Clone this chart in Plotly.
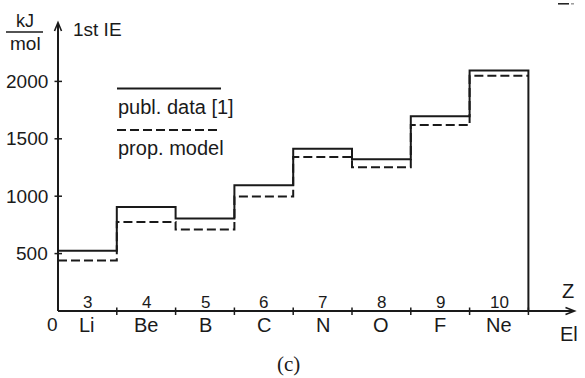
import plotly.graph_objects as go

# First ionisation energies of the period-2 elements (kJ/mol)
elements = ["Li", "Be", "B", "C", "N", "O", "F", "Ne"]
atomic_numbers = [3, 4, 5, 6, 7, 8, 9, 10]
ie_published = [524, 906, 806, 1096, 1414, 1322, 1696, 2096]
ie_model = [440, 776, 710, 997, 1342, 1252, 1620, 2050]
y_ticks = [500, 1000, 1500, 2000]

W, H = 585, 378
X_ORIGIN_PX, X_UNIT_PX = 58.0, 58.8      # pixel of x=0, pixels per element bin
Y_ORIGIN_PX, Y_UNIT_PX = 311.0, 0.1148   # pixel of y=0, pixels per kJ/mol

INK = "#1a1a1a"
SANS = "Liberation Sans, Arial, Helvetica, sans-serif"


def xd(px):
    return (px - X_ORIGIN_PX) / X_UNIT_PX


def yd(py):
    return (Y_ORIGIN_PX - py) / Y_UNIT_PX


n = len(elements)
edges = list(range(n + 1))

fig = go.Figure()

# published values: step curve closed down to the axis after Ne
fig.add_trace(go.Scatter(
    x=edges + [n],
    y=ie_published + [ie_published[-1], 0],
    mode="lines", line=dict(color=INK, width=2, shape="hv"),
    hoverinfo="skip", showlegend=False,
))
# proposed model: dashed step curve
fig.add_trace(go.Scatter(
    x=edges,
    y=ie_model + [ie_model[-1]],
    mode="lines", line=dict(color=INK, width=2, shape="hv", dash="9px,4px"),
    hoverinfo="skip", showlegend=False,
))

shapes = []
line_style = dict(color=INK, width=2)

# axes with open arrow heads
shapes.append(dict(type="line", x0=0, x1=0, y0=0, y1=yd(23), line=line_style))
shapes.append(dict(type="path",
                   path=f"M {xd(54.5)},{yd(31)} L 0,{yd(22.5)} L {xd(61.5)},{yd(31)}",
                   line=dict(color=INK, width=1.6)))
shapes.append(dict(type="line", x0=0, x1=xd(574), y0=0, y1=0, line=line_style))
shapes.append(dict(type="path",
                   path=f"M {xd(565.5)},{yd(307.5)} L {xd(574.5)},0 L {xd(565.5)},{yd(314.5)}",
                   line=dict(color=INK, width=1.6)))

# crossing tick marks
for v in y_ticks:
    shapes.append(dict(type="line", x0=xd(54.5), x1=xd(62), y0=v, y1=v,
                       line=dict(color=INK, width=1.5)))
for i in range(1, n + 1):
    shapes.append(dict(type="line", x0=i, x1=i, y0=yd(307.5), y1=yd(315),
                       line=dict(color=INK, width=1.5)))

# unit fraction bar
shapes.append(dict(type="line", x0=xd(6), x1=xd(43), y0=yd(32), y1=yd(32),
                   line=dict(color=INK, width=1.5)))

# legend samples
shapes.append(dict(type="line", x0=xd(117), x1=xd(221), y0=yd(88.5), y1=yd(88.5),
                   line=line_style))
shapes.append(dict(type="line", x0=xd(117), x1=xd(221), y0=yd(130), y1=yd(130),
                   line=dict(color=INK, width=2, dash="9px,4px")))

# small stroke in the top-right corner
shapes.append(dict(type="line", x0=xd(558), x1=xd(569), y0=yd(3.8), y1=yd(3.8),
                   line=dict(color=INK, width=1.5)))
shapes.append(dict(type="line", x0=xd(571), x1=xd(574), y0=yd(3.8), y1=yd(3.8),
                   line=dict(color="#999999", width=1.5)))

ann = []


def label(text, x, y, size=19, xanchor="center", family=SANS):
    ann.append(dict(text=text, x=x, y=y, xref="x", yref="y", showarrow=False,
                    xanchor=xanchor, yanchor="middle",
                    font=dict(family=family, size=size, color=INK)))


for v in y_ticks:
    label(str(v), xd(50), v, xanchor="right")
label("0", xd(52), yd(324))
for i, (el, z) in enumerate(zip(elements, atomic_numbers)):
    label(el, i + 0.5, yd(325), size=20)
    label(str(z), i + 0.5, yd(302), size=17)
label("Z", xd(567.5), yd(291), size=20)
label("El", xd(568.5), yd(334), size=20)
label("1st IE", xd(71), yd(29), xanchor="left")
label("kJ", xd(24.5), yd(20.5), size=18)
label("mol", xd(25), yd(43.5), size=19)
label("publ. data [1]", xd(116), yd(107), size=20, xanchor="left")
label("prop. model", xd(116), yd(147.5), size=20, xanchor="left")
label("(c)", xd(288), yd(364), size=21, family="Liberation Serif, DejaVu Serif, serif")

fig.update_layout(
    width=W, height=H,
    margin=dict(l=0, r=0, t=0, b=0),
    paper_bgcolor="white", plot_bgcolor="white",
    xaxis=dict(visible=False, range=[xd(0), xd(W)]),
    yaxis=dict(visible=False, range=[yd(H), yd(0)]),
    shapes=shapes, annotations=ann,
    showlegend=False,
)

fig.write_html("out.html")
